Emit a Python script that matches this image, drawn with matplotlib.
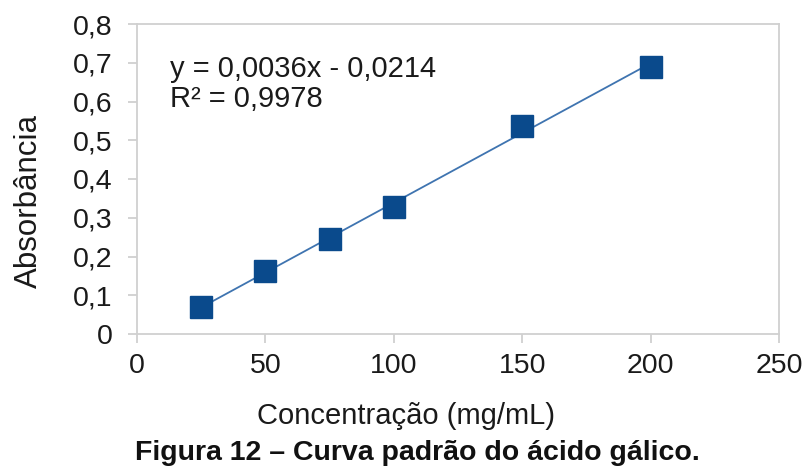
import matplotlib

matplotlib.use("Agg")
import matplotlib.pyplot as plt
import numpy as np

plt.rcParams["font.family"] = ["Liberation Sans", "DejaVu Sans"]

# data
conc = [25, 50, 75, 100, 150, 200]
absorb = [0.069, 0.163, 0.245, 0.329, 0.537, 0.688]
slope, intercept = 0.0036, -0.0214
eq_text = "y = 0,0036x - 0,0214\nR² = 0,9978"
xticks = [0, 50, 100, 150, 200, 250]
yticks = [0, 0.1, 0.2, 0.3, 0.4, 0.5, 0.6, 0.7, 0.8]

C_MARK = "#0a4a8c"
C_LINE = "#3f74b0"
C_AXIS = "#d0d0d0"
C_TXT = "#1a1a1a"

fig = plt.figure(figsize=(8.03, 4.75), dpi=100)
ax = fig.add_axes([137 / 803, 1 - 334 / 475, (779 - 137) / 803, (334 - 24) / 475])

xl = np.array([conc[0], conc[-1]])
ax.plot(xl, slope * xl + intercept, color=C_LINE, lw=1.3, zorder=2)
ax.plot(conc, absorb, ls="none", marker="s", ms=16, color=C_MARK,
        mec=C_MARK, zorder=3)

ax.set_xlim(0, 250)
ax.set_ylim(0, 0.8)
ax.set_xticks(xticks)
ax.set_yticks(yticks)
ax.set_xticklabels([str(t) for t in xticks])
ax.set_yticklabels(["0" if t == 0 else f"{t:.1f}".replace(".", ",") for t in yticks])
for s in ax.spines.values():
    s.set_color(C_AXIS)
    s.set_linewidth(1.3)
ax.tick_params(colors=C_AXIS, labelcolor=C_TXT, labelsize=20.5,
               length=6.5, width=1.3, direction="out")
ax.tick_params(axis="x", pad=7)
ax.tick_params(axis="y", pad=11)

ax.text(170 / 803, 1 - 84 / 475, eq_text, transform=fig.transFigure,
        fontsize=21, va="center", ha="left", color=C_TXT, linespacing=1.05)

fig.text(29 / 803, 1 - 201 / 475, "Absorbância", fontsize=22.5, rotation=90,
         ha="center", va="center", color=C_TXT)
fig.text(406 / 803, 1 - 416 / 475, "Concentração (mg/mL)", fontsize=21,
         ha="center", va="center", color=C_TXT)
fig.text(417 / 803, 1 - 453 / 475, "Figura 12 – Curva padrão do ácido gálico.",
         fontsize=20.5, fontweight="bold", ha="center", va="center", color="#111111")

fig.savefig("out.png", dpi=100)
